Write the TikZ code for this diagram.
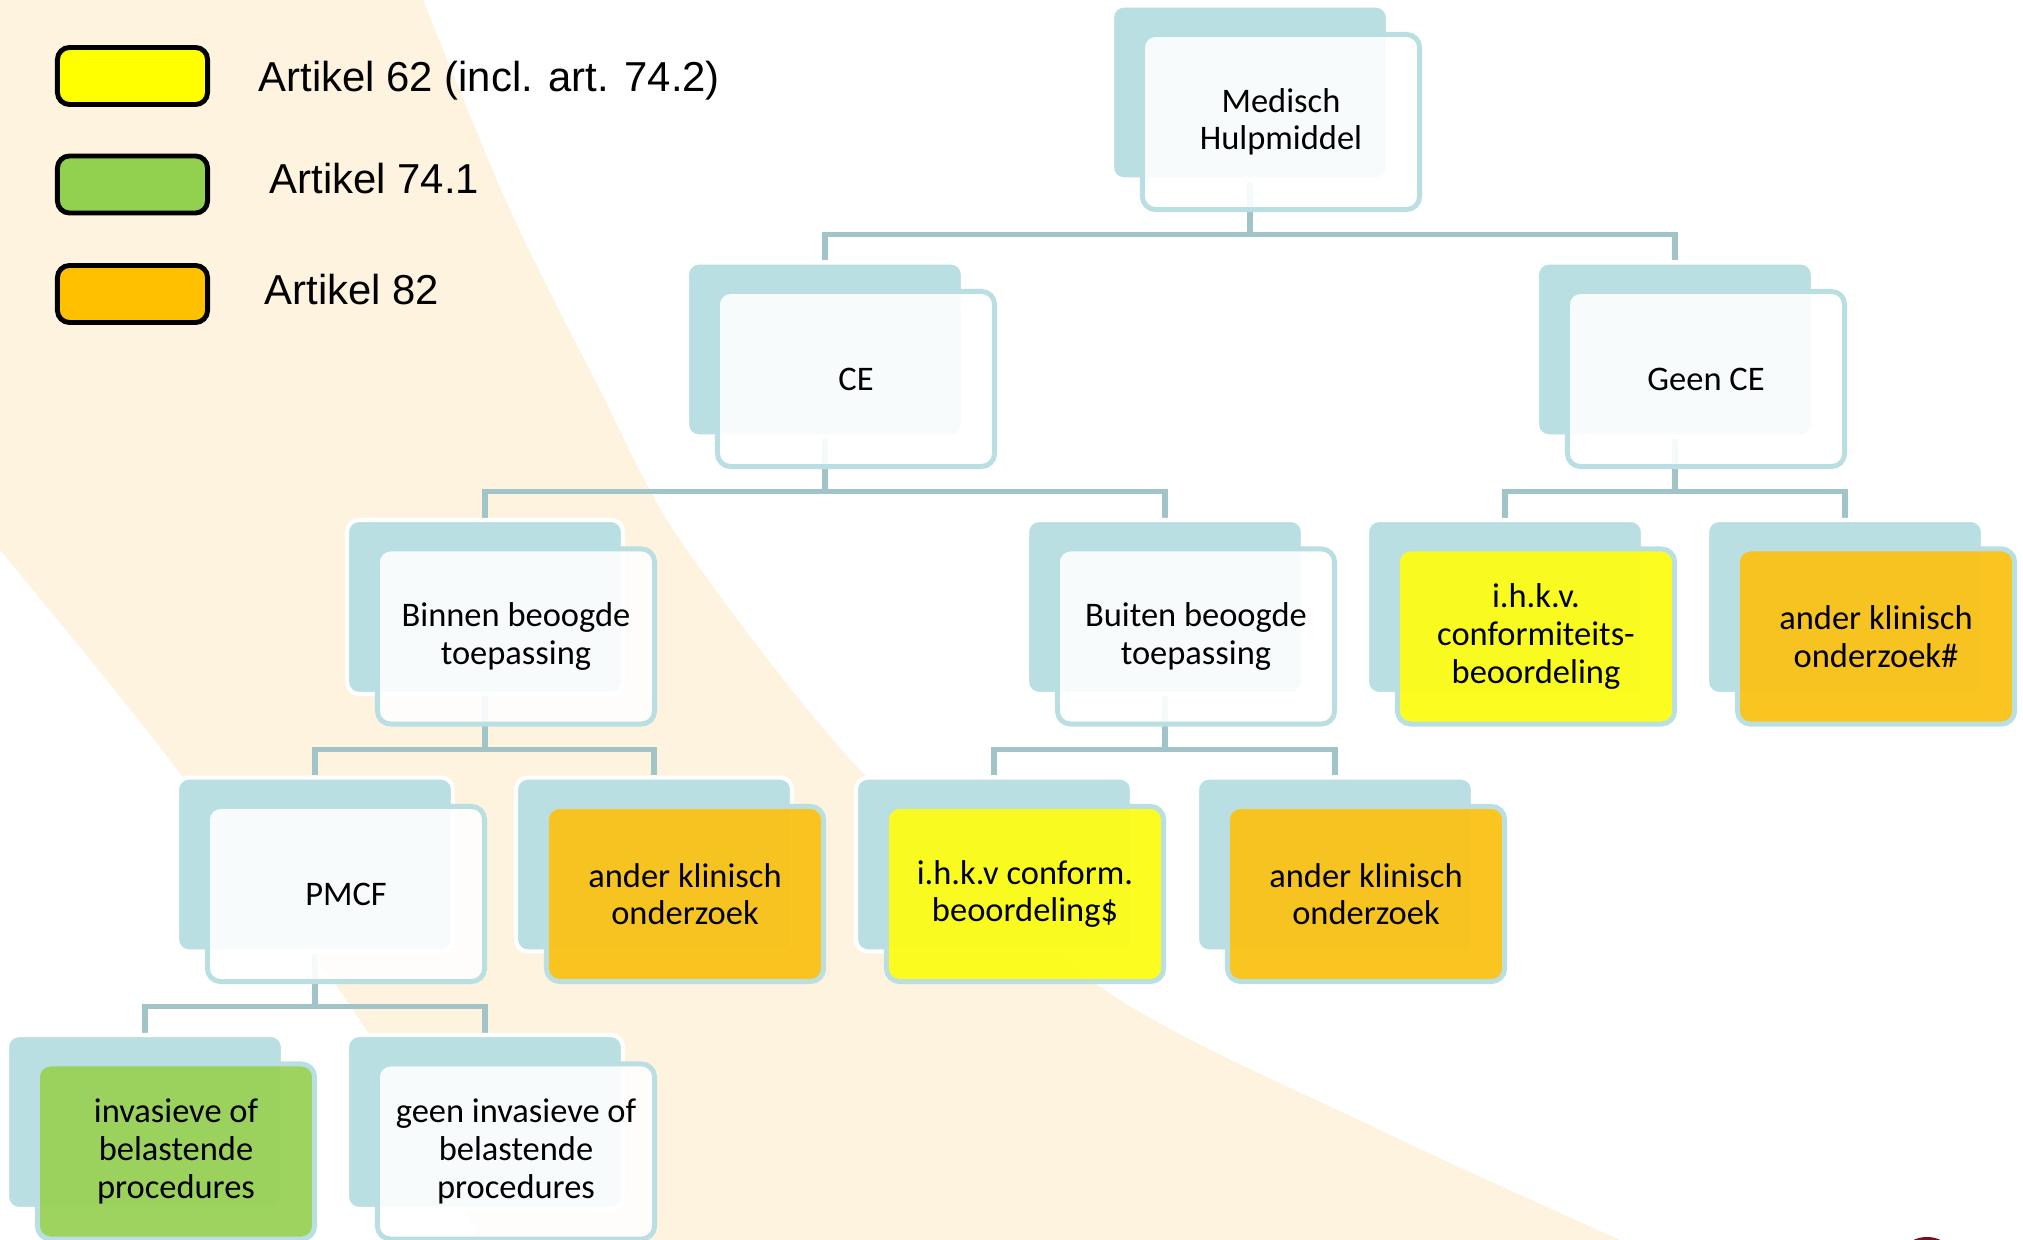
\documentclass[tikz,border=0pt]{standalone}
\usepackage{fontspec}
\setmainfont{Carlito}
\newfontfamily\legendfont{Liberation Sans}
\usetikzlibrary{calc}
\definecolor{cream}{RGB}{254,243,222}
\definecolor{boxteal}{RGB}{185,223,227}
\definecolor{connteal}{RGB}{160,196,199}
\definecolor{artyellow}{RGB}{252,252,26}
\definecolor{artgreen}{RGB}{155,210,90}
\definecolor{artorange}{RGB}{250,195,26}
\definecolor{legyellow}{RGB}{255,255,0}
\definecolor{leggreen}{RGB}{146,208,80}
\definecolor{legorange}{RGB}{255,192,0}
\definecolor{logored}{RGB}{120,16,32}
\pgfdeclarelayer{back}
\pgfdeclarelayer{links}
\pgfsetlayers{back,links,main}
\newcommand{\tbox}[5]{%
  \node[backbox] (#1-b) at (#2,#3) {};
  \node[frontbox, #4] (#1) at ($(#1-b.center)+(31,29.5)$) {#5};
}

\begin{document}
\begin{tikzpicture}[x={(0.01cm,0)}, y={(0,-0.01cm)},
  backbox/.style={draw=white, line width=1.2pt, fill=boxteal, rounded corners=1.2mm,
    minimum width=2.76cm, minimum height=1.74cm, inner sep=0pt},
  frontbox/.style={draw=boxteal, line width=1.4pt, fill=white, fill opacity=0.9, text opacity=1,
    rounded corners=1.3mm, minimum width=2.77cm, minimum height=1.75cm, inner sep=0pt,
    align=center, font=\fontsize{9.8}{10.7}\selectfont},
  yellowbox/.style={fill=artyellow, fill opacity=0.97},
  greenbox/.style={fill=artgreen, fill opacity=0.97},
  orangebox/.style={fill=artorange, fill opacity=0.97},
  conn/.style={draw=connteal, line width=1.5pt},
  legbox/.style={draw=black, line width=1.4pt, rounded corners=1.2mm,
    minimum width=1.50cm, minimum height=0.57cm, inner sep=0pt},
  legtext/.style={anchor=base west, inner sep=0pt, font=\legendfont\fontsize{11.9}{14}\selectfont}]

\useasboundingbox (0,0) rectangle (2023,1240);

\begin{pgfonlayer}{back}
\fill[white] (0,0) rectangle (2023,1240);
\fill[cream] (0,0) -- plot[smooth] coordinates {(423,0) (510,210) (600,390) (680,540) (860,770) (1105,990) (1380,1130) (1620,1240)}
  -- plot[smooth] coordinates {(480,1240) (367,1031) (170,760) (0,550)} -- cycle;
\begin{scope}
\clip (0,0) rectangle (2023,1240);
\fill[logored] (1927,1265) ellipse [x radius=0.3cm, y radius=0.28cm];
\end{scope}
\end{pgfonlayer}

\node[legbox, fill=legyellow] (leg62) at (132.5,76) {};
\node[legbox, fill=leggreen] (leg741) at (132.5,184.5) {};
\node[legbox, fill=legorange] (leg82) at (132.5,294) {};
\node[legtext] (txt62) at (258,92) {Artikel 62 (incl. art. 74.2)};
\node[legtext] (txt741) at (269,194) {Artikel 74.1};
\node[legtext] (txt82) at (264,305) {Artikel 82};

\tbox{med}{1250}{92.5}{}{Medisch\\Hulpmiddel}
\tbox{ce}{825}{349.5}{}{CE}
\tbox{geen}{1675}{349.5}{}{Geen CE}
\tbox{binnen}{485}{607}{}{Binnen beoogde\\toepassing}
\tbox{buiten}{1165}{607}{}{Buiten beoogde\\toepassing}
\tbox{ihkv}{1505}{607}{yellowbox}{i.h.k.v.\\conformiteits-\\beoordeling}
\tbox{andh}{1845}{607}{orangebox}{ander klinisch\\onderzoek\#}
\tbox{pmcf}{315}{864.5}{}{PMCF}
\tbox{ak1}{654}{864.5}{orangebox}{ander klinisch\\onderzoek}
\tbox{conf}{994}{864.5}{yellowbox}{i.h.k.v conform.\\beoordeling\$}
\tbox{ak2}{1335}{864.5}{orangebox}{ander klinisch\\onderzoek}
\tbox{inv}{145}{1122}{greenbox}{invasieve of\\belastende\\procedures}
\tbox{ninv}{485}{1122}{}{geen invasieve of\\belastende\\procedures}

\begin{pgfonlayer}{links}
\foreach \p/\c in {med/ce, med/geen, ce/binnen, ce/buiten, geen/ihkv, geen/andh,
  binnen/pmcf, binnen/ak1, buiten/conf, buiten/ak2, pmcf/inv, pmcf/ninv}
  \draw[conn] (\c-b.north) -- ++(0,-26) -| (\p-b.south);
\end{pgfonlayer}

\end{tikzpicture}
\end{document}
